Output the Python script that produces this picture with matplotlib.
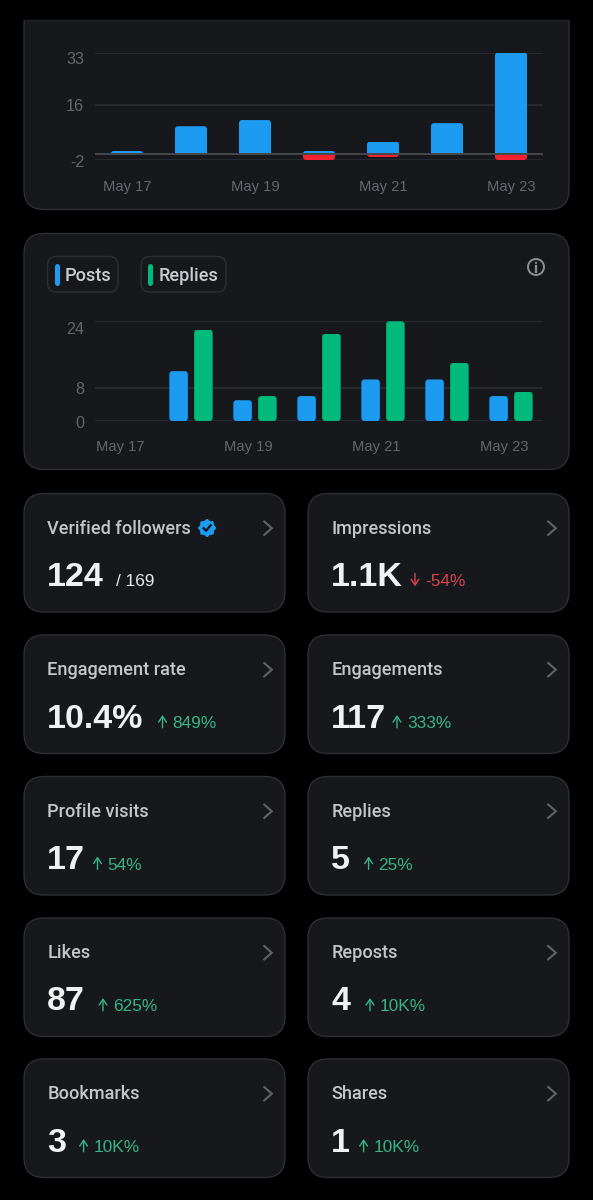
import matplotlib
matplotlib.use("Agg")
import matplotlib.pyplot as plt
from matplotlib.patches import FancyBboxPatch, Circle, Rectangle, Polygon
from matplotlib.transforms import ScaledTranslation
import numpy as np

plt.rcParams['font.family'] = ['Liberation Sans', 'DejaVu Sans']
LABEL_FONT = ['Roboto', 'DejaVu Sans']

# ---- data ----
dates = ["May 17", "May 18", "May 19", "May 20", "May 21", "May 22", "May 23"]
tick_dates = ["May 17", "May 19", "May 21", "May 23"]
follows = [1, 9, 11, 1, 4, 10, 33]
unfollows = [0, 0, 0, -2, -1, 0, -2]
yticks_top = [-2, 16, 33]
posts = [0, 12, 5, 6, 10, 10, 6]
replies = [0, 22, 6, 21, 24, 14, 7]
yticks_bottom = [0, 8, 24]
metric_titles = ["Verified followers", "Impressions", "Engagement rate", "Engagements",
                 "Profile visits", "Replies", "Likes", "Reposts", "Bookmarks", "Shares"]
metric_values = ["124", "1.1K", "10.4%", "117", "17", "5", "87", "4", "3", "1"]
metric_deltas = ["/ 169", "-54%", "849%", "333%", "54%", "25%", "625%", "10K%", "10K%", "10K%"]
metric_dirs = ["none", "down", "up", "up", "up", "up", "up", "up", "up", "up"]

# ---- layout (pixel positions, not data) ----
delta_x = [116, 425, 172.5, 407, 107.5, 378.6, 113, 380, 93.6, 373.6]

# ---- colours ----
BG = "#000000"
CARD = "#16181c"
EDGE = "#2c2f33"
BLUE = "#1d9bf0"
GREEN = "#00ba7c"
RED = "#f4212e"
GRID = "#2a2d31"
TICK = "#62676c"
TITLE = "#c4c7ca"
VALUE = "#eff1f3"

W, H = 593, 1200
fig = plt.figure(figsize=(W / 100, H / 100), dpi=100, facecolor=BG)
bg = fig.add_axes([0, 0, 1, 1])
bg.set_xlim(0, W)
bg.set_ylim(H, 0)
bg.axis("off")


def card(x0, y0, x1, y1, r=20, clip_top=None):
    p = FancyBboxPatch((x0 + r, y0 + r), x1 - x0 - 2 * r, y1 - y0 - 2 * r,
                       boxstyle=f"round,pad={r},rounding_size={r}",
                       fc=CARD, ec=EDGE, lw=1.0, zorder=1)
    bg.add_patch(p)
    if clip_top is not None:
        p.set_clip_path(Rectangle((0, clip_top), W, H, transform=bg.transData))
    return p


card(24, -40, 569, 209.5, clip_top=20)
bg.plot([24, 569], [20, 20], color="#202326", lw=1, zorder=2)
card(24, 233.5, 569, 469.5)


def data_axes(x0, x1, ytop, ybot, vtop, vbot):
    ax = fig.add_axes([x0 / W, 1 - ybot / H, (x1 - x0) / W, (ybot - ytop) / H])
    ax.patch.set_alpha(0)
    ax.set_xlim(-0.5, 6.5)
    ax.set_ylim(vbot, vtop)
    for s in ax.spines.values():
        s.set_visible(False)
    ax.grid(axis="y", color=GRID, lw=1.2)
    ax.set_axisbelow(True)
    ax.tick_params(length=0, labelsize=10.6, labelcolor=TICK)
    ax.tick_params(axis="y", labelsize=11.6)
    return ax


def round_bars(ax, bars, r_px, top=True, bottom=True):
    """Round bar corners with a clip path in pixel-true proportions."""
    bb = ax.get_position()
    xu = (ax.get_xlim()[1] - ax.get_xlim()[0]) / (bb.width * W)
    yu = (ax.get_ylim()[1] - ax.get_ylim()[0]) / (bb.height * H)
    for b in bars:
        x, y, w, h = b.get_x(), b.get_y(), b.get_width(), b.get_height()
        if h < 0:
            y, h = y + h, -h
        if h == 0:
            continue
        rx = r_px * xu
        ry = min(r_px * yu, h)
        y0 = y if bottom else y - 2 * ry
        y1 = y + h if top else y + h + 2 * ry
        clip = FancyBboxPatch((x + rx, y0 + ry), w - 2 * rx, y1 - y0 - 2 * ry,
                              boxstyle=f"round,pad={rx},rounding_size={rx}",
                              mutation_aspect=ry / rx, transform=ax.transData)
        b.set_clip_path(clip)


def style_ticks(ax, yticks, xshift_px, yshifts, xpad):
    ax.set_yticks(yticks)
    ax.set_yticklabels([str(v) for v in yticks])
    ax.set_xticks([dates.index(d) for d in tick_dates])
    ax.set_xticklabels(tick_dates)
    ax.tick_params(axis="y", pad=7.7)
    ax.tick_params(axis="x", pad=xpad)
    for lab, dy in zip(ax.get_yticklabels(), yshifts):
        lab.set_transform(lab.get_transform() + ScaledTranslation(0, -dy / 100, fig.dpi_scale_trans))
    for lab in ax.get_xticklabels():
        lab.set_transform(lab.get_transform() + ScaledTranslation(xshift_px / 100, 0, fig.dpi_scale_trans))


# ---- top chart ----
x = np.arange(len(dates))
ax1 = data_axes(95, 543, 52.5, 160, 33, -2)
ax1.set_ylim(-2, 33)
blue_bars = ax1.bar(x, follows, width=0.5, color=BLUE, zorder=3)
red_bars = ax1.bar(x, unfollows, width=0.5, color=RED, zorder=3)
ax1.axhline(0, color="#45484c", lw=1.4, zorder=4)
round_bars(ax1, blue_bars, 3, bottom=False)
round_bars(ax1, red_bars, 3, top=False)
style_ticks(ax1, yticks_top, 0, [1, 0, 5.5], 14.4)

# ---- bottom chart ----
ax2 = data_axes(95, 543, 321.3, 421, 24, 0)
ax2.set_ylim(0, 24)
off = 12.4 / 64
b1 = ax2.bar(x - off, posts, width=18.5 / 64, color=BLUE, zorder=3)
b2 = ax2.bar(x + off, replies, width=18.5 / 64, color=GREEN, zorder=3)
round_bars(ax2, b1, 3)
round_bars(ax2, b2, 3)
style_ticks(ax2, yticks_bottom, -7, [0.5, 0.5, 6.5], 14)

# ---- legend chips ----
for (x0, x1, pill, txt, col, label) in [(47.5, 118, 56.5, 65, BLUE, "Posts"),
                                        (141, 226, 149.7, 159, GREEN, "Replies")]:
    r = 9
    bg.add_patch(FancyBboxPatch((x0 + r, 256.5 + r), x1 - x0 - 2 * r, 35.5 - 2 * r,
                                boxstyle=f"round,pad={r},rounding_size={r}",
                                fc=CARD, ec=EDGE, lw=1.0, zorder=2))
    bg.plot([pill, pill], [265.5, 283], color=col, lw=3.6, solid_capstyle="round", zorder=3)
    bg.text(txt, 274, label, color="#c9ccd0", fontsize=13.1, va="center_baseline", ha="left",
            family=LABEL_FONT, fontweight="medium", zorder=3)

# info icon
bg.add_patch(Circle((536, 267), 8, fc="none", ec="#8b9095", lw=1.4, zorder=3))
bg.plot([536, 536], [266, 271.5], color="#8b9095", lw=1.6, zorder=3)
bg.add_patch(Circle((536, 262.8), 1.1, fc="#8b9095", ec="none", zorder=3))

# ---- metric cards ----
rows = [493.5, 635, 776.5, 918, 1059]
cols = [(24, 285), (308, 569)]
fig.canvas.draw()
renderer = fig.canvas.get_renderer()
for i, title in enumerate(metric_titles):
    top = rows[i // 2]
    x0, x1 = cols[i % 2]
    card(x0, top, x1, top + 118.5)
    tx = x0 + 23.3
    t = bg.text(tx, top + 40.3, title, color=TITLE, fontsize=13.1, family=LABEL_FONT,
                fontweight="medium", va="baseline", ha="left", zorder=3)
    bg.text(tx, top + 92.5, metric_values[i], color=VALUE, fontsize=24.5, fontweight="bold",
            va="baseline", ha="left", zorder=3)
    dx = delta_x[i]
    d = metric_dirs[i]
    if d == "none":
        bg.text(dx, top + 92.5, metric_deltas[i], color="#e7e9ea", fontsize=12.4,
                va="baseline", ha="left", zorder=3)
    else:
        col = "#35b585" if d == "up" else "#d9434f"
        ax_x = dx - 10
        ys, ye = (top + 92.8, top + 80) if d == "up" else (top + 80, top + 92.8)
        bg.annotate("", xy=(ax_x, ye), xytext=(ax_x, ys),
                    arrowprops=dict(arrowstyle="->,head_width=0.28,head_length=0.42", color=col,
                                    lw=1.0, shrinkA=0, shrinkB=0), zorder=3)
        bg.text(dx, top + 93, metric_deltas[i], color=col, fontsize=12.4,
                va="baseline", ha="left", zorder=3)
    # chevron
    cx = x1 - 17
    bg.plot([cx - 3.8, cx + 3.8, cx - 3.8], [top + 28, top + 34.7, top + 41.4],
            color="#5f6368", lw=1.5, solid_joinstyle="miter", zorder=3)
    if i == 0:
        tb = t.get_window_extent(renderer)
        bx = tb.x1 + 16
        by = top + 34.5
        ang = np.linspace(0, 2 * np.pi, 33)[:-1]
        rad = 8.3 + 0.9 * np.cos(8 * ang)
        bg.add_patch(Polygon(np.c_[bx + rad * np.cos(ang), by + rad * np.sin(ang)],
                             closed=True, fc=BLUE, ec="none", zorder=3))
        bg.plot([bx - 3.5, bx - 1, bx + 3.6], [by + 0.2, by + 2.8, by - 2.8],
                color="#10141a", lw=1.6, zorder=4)

fig.savefig("out.png", dpi=100, facecolor=BG)
